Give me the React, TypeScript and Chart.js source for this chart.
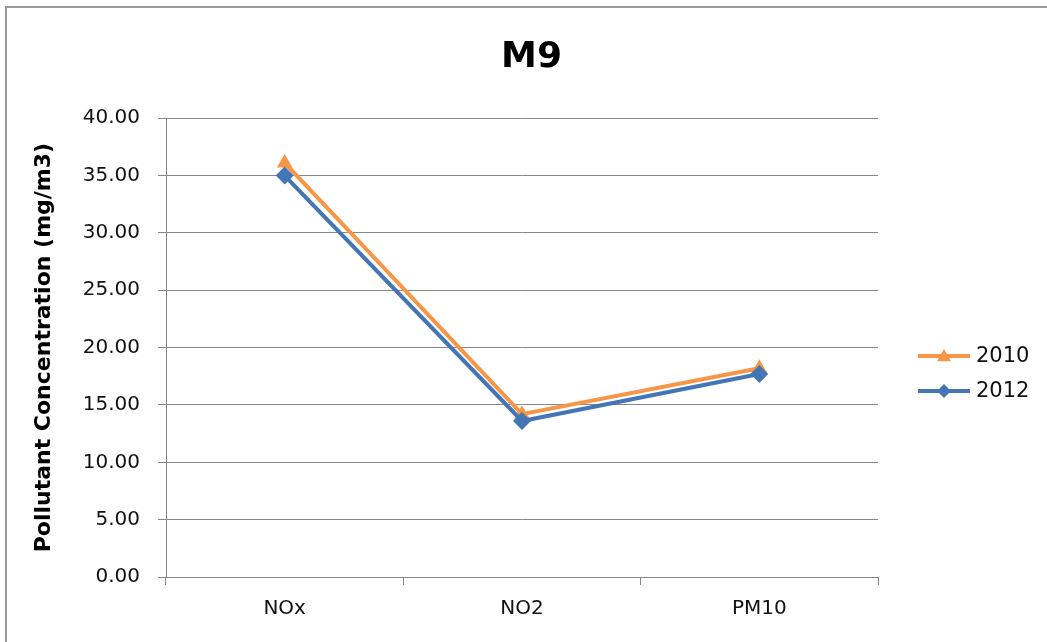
import React, { useEffect, useRef } from "react";
import { Chart, registerables } from "chart.js";

Chart.register(...registerables);

const categories = ["NOx", "NO2", "PM10"];
const series2010 = [36.1, 14.2, 18.2];
const series2012 = [35.0, 13.6, 17.7];
const seriesLabels = ["2010", "2012"];
const yTickMin = 0;
const yTickMax = 40;
const yTickStep = 5;

const ORANGE = "#F79646";
const BLUE = "#4476B6";
const GRID = "#878787";
const FONT = "'DejaVu Sans', 'Liberation Sans', sans-serif";

const legendPlugin = {
  id: "sideLegend",
  afterDraw(chart: any) {
    const ctx = chart.ctx as CanvasRenderingContext2D;
    const area = chart.chartArea;
    const x0 = area.right + 40;
    const x1 = x0 + 52;
    const rows = [356, 391];
    chart.data.datasets.forEach((ds: any, i: number) => {
      const y = rows[i];
      ctx.save();
      ctx.strokeStyle = ds.borderColor;
      ctx.lineWidth = 4;
      ctx.beginPath();
      ctx.moveTo(x0, y);
      ctx.lineTo(x1, y);
      ctx.stroke();
      const cx = (x0 + x1) / 2;
      const r = 7;
      ctx.fillStyle = ds.borderColor;
      ctx.beginPath();
      if (ds.pointStyle === "triangle") {
        ctx.moveTo(cx, y - r);
        ctx.lineTo(cx + r, y + r * 0.75);
        ctx.lineTo(cx - r, y + r * 0.75);
      } else {
        ctx.moveTo(cx, y - r);
        ctx.lineTo(cx + r, y);
        ctx.lineTo(cx, y + r);
        ctx.lineTo(cx - r, y);
      }
      ctx.closePath();
      ctx.fill();
      ctx.fillStyle = "#111";
      ctx.font = `21px ${FONT}`;
      ctx.textBaseline = "middle";
      ctx.textAlign = "left";
      ctx.fillText(ds.label, x1 + 6, y + 1);
      ctx.restore();
    });
  },
};

export default function App() {
  const ref = useRef<HTMLCanvasElement | null>(null);

  useEffect(() => {
    if (!ref.current) return;
    const chart = new Chart(ref.current, {
      type: "line",
      data: {
        labels: categories,
        datasets: [
          {
            label: seriesLabels[0],
            data: series2010,
            borderColor: ORANGE,
            backgroundColor: ORANGE,
            borderWidth: 4,
            pointStyle: "triangle",
            pointRadius: 9,
            pointBorderWidth: 0,
            pointBackgroundColor: ORANGE,
            tension: 0,
            order: 1,
          },
          {
            label: seriesLabels[1],
            data: series2012,
            borderColor: BLUE,
            backgroundColor: BLUE,
            borderWidth: 4,
            pointStyle: "rectRot",
            pointRadius: 9,
            pointBorderWidth: 0,
            pointBackgroundColor: BLUE,
            tension: 0,
            order: 0,
          },
        ],
      },
      options: {
        responsive: false,
        animation: false,
        layout: { padding: { left: 16, right: 0, top: 0, bottom: 0 } },
        plugins: {
          legend: { display: false },
          tooltip: { enabled: false },
          title: {
            display: true,
            text: "M9",
            color: "#000",
            font: { family: FONT, size: 36, weight: "bold", lineHeight: 1.2 },
            padding: { top: 36, bottom: 39 },
          },
        },
        scales: {
          x: {
            type: "category",
            offset: true,
            grid: {
              offset: true,
              drawOnChartArea: false,
              drawTicks: true,
              tickLength: 8,
              color: GRID,
            },
            border: { display: true, color: GRID, width: 1 },
            ticks: {
              color: "#111",
              font: { family: FONT, size: 20, lineHeight: 1.2 },
              padding: 12,
            },
            afterFit: (s: any) => {
              s.height = 65;
            },
          },
          y: {
            min: yTickMin,
            max: yTickMax,
            grid: { color: GRID, tickLength: 8, drawTicks: true },
            border: { display: true, color: GRID, width: 1 },
            ticks: {
              stepSize: yTickStep,
              color: "#111",
              font: { family: FONT, size: 20 },
              padding: 18,
              callback: (v: any) => Number(v).toFixed(2),
            },
            title: {
              display: true,
              text: "Pollutant Concentration (mg/m3)",
              color: "#000",
              font: { family: FONT, size: 22, weight: "bold", lineHeight: 1.2 },
              padding: { top: 15, bottom: 0 },
            },
            afterFit: (s: any) => {
              s.width = 150;
            },
          },
          legendSpace: {
            type: "linear",
            position: "right",
            display: true,
            grid: { display: false, drawTicks: false },
            border: { display: false },
            ticks: { display: false },
            afterFit: (s: any) => {
              s.width = 169;
            },
          },
        },
      },
      plugins: [legendPlugin],
    });
    return () => chart.destroy();
  }, []);

  return (
    <div
      style={{
        position: "fixed",
        left: 0,
        top: 0,
        width: 1047,
        height: 642,
        background: "#fff",
        overflow: "hidden",
      }}
    >
      <div
        style={{
          position: "absolute",
          left: 5,
          top: 6,
          width: 1100,
          height: 700,
          border: "2px solid #9a9a9a",
          boxSizing: "border-box",
        }}
      />
      <canvas
        ref={ref}
        width={1047}
        height={642}
        style={{ position: "absolute", left: 0, top: 0 }}
      />
    </div>
  );
}
